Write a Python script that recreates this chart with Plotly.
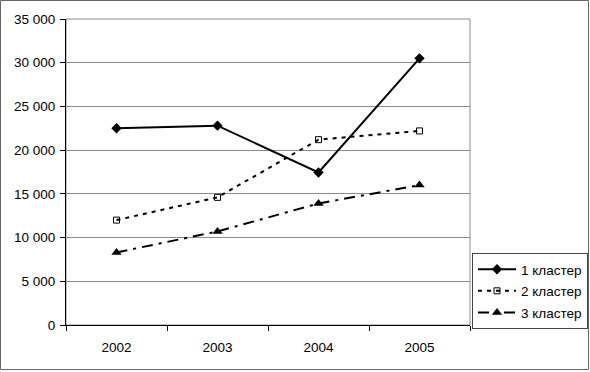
import plotly.graph_objects as go

years = ["2002", "2003", "2004", "2005"]
cluster1 = [22500, 22800, 17450, 30500]
cluster2 = [12000, 14600, 21200, 22200]
cluster3 = [8300, 10700, 13900, 16000]
names = ["1 кластер", "2 кластер", "3 кластер"]
yticks = [0, 5000, 10000, 15000, 20000, 25000, 30000, 35000]
ytext = ["0", "5 000", "10 000", "15 000", "20 000", "25 000", "30 000", "35 000"]

xpos = list(range(len(years)))

fig = go.Figure()
fig.add_trace(go.Scatter(x=xpos, y=cluster1, name=names[0], mode="lines+markers",
                         legendgroup="g1",
                         line=dict(color="black", width=2),
                         marker=dict(symbol="diamond", size=8, color="black")))
fig.add_trace(go.Scatter(x=xpos, y=cluster2, name=names[1], mode="lines+markers",
                         legendgroup="g2",
                         line=dict(color="black", width=2, dash="4px,5px"),
                         marker=dict(symbol="square-open", size=6, color="black",
                                     line=dict(width=1))))
fig.add_trace(go.Scatter(x=xpos, y=cluster3, name=names[2], mode="lines+markers",
                         legendgroup="g3",
                         line=dict(color="black", width=2, dash="11px,6px,3px,6px"),
                         marker=dict(symbol="triangle-up", size=9, color="black")))

L, R, T, B = 66, 120, 19, 47
W, H = 590, 372
pw, ph = W - L - R, H - T - B

fig.update_layout(
    width=W, height=H,
    margin=dict(l=L, r=R, t=T, b=B, autoexpand=False),
    paper_bgcolor="white", plot_bgcolor="white",
    font=dict(family="Liberation Sans, Arial, sans-serif", size=13.5, color="black"),
    showlegend=True,
    legend=dict(x=(472 - L) / pw, y=(H - B - 253) / ph, xanchor="left", yanchor="top",
                bordercolor="#444444", borderwidth=1, bgcolor="white",
                font=dict(size=13.5), tracegroupgap=1, itemwidth=38),
    xaxis=dict(range=[-0.5, 3.5], tickvals=xpos, ticktext=years, ticks="",
               ticklabelstandoff=10,
               showgrid=False, zeroline=False, showline=True, linecolor="black",
               linewidth=1, mirror=False, fixedrange=True,
               minor=dict(tickvals=[-0.5, 0.5, 1.5, 2.5, 3.5], ticks="outside",
                          ticklen=5, tickcolor="black", showgrid=False)),
    yaxis=dict(range=[0, 35000], tickvals=yticks, ticktext=ytext, ticks="outside",
               ticklen=5, tickcolor="black", showgrid=True, gridcolor="#8c8c8c",
               ticklabelstandoff=2,
               gridwidth=1, zeroline=False, showline=True, linecolor="black",
               linewidth=1, fixedrange=True),
)

# plot area border (top/right, gray)
fig.add_shape(type="rect", xref="paper", yref="paper", x0=0, y0=0, x1=1, y1=1,
              line=dict(color="#8c8c8c", width=1), layer="below")
# outer chart frame
fig.add_shape(type="rect", xref="paper", yref="paper",
              x0=-(L - 0.5) / pw, x1=1 + (R - 1.5) / pw,
              y0=-(B - 2.5) / ph, y1=1 + (T - 0.5) / ph,
              line=dict(color="#666666", width=1))

fig.write_html("out.html", config={"displayModeBar": False},
               post_script="document.body.style.margin='0';document.body.style.padding='0';")
